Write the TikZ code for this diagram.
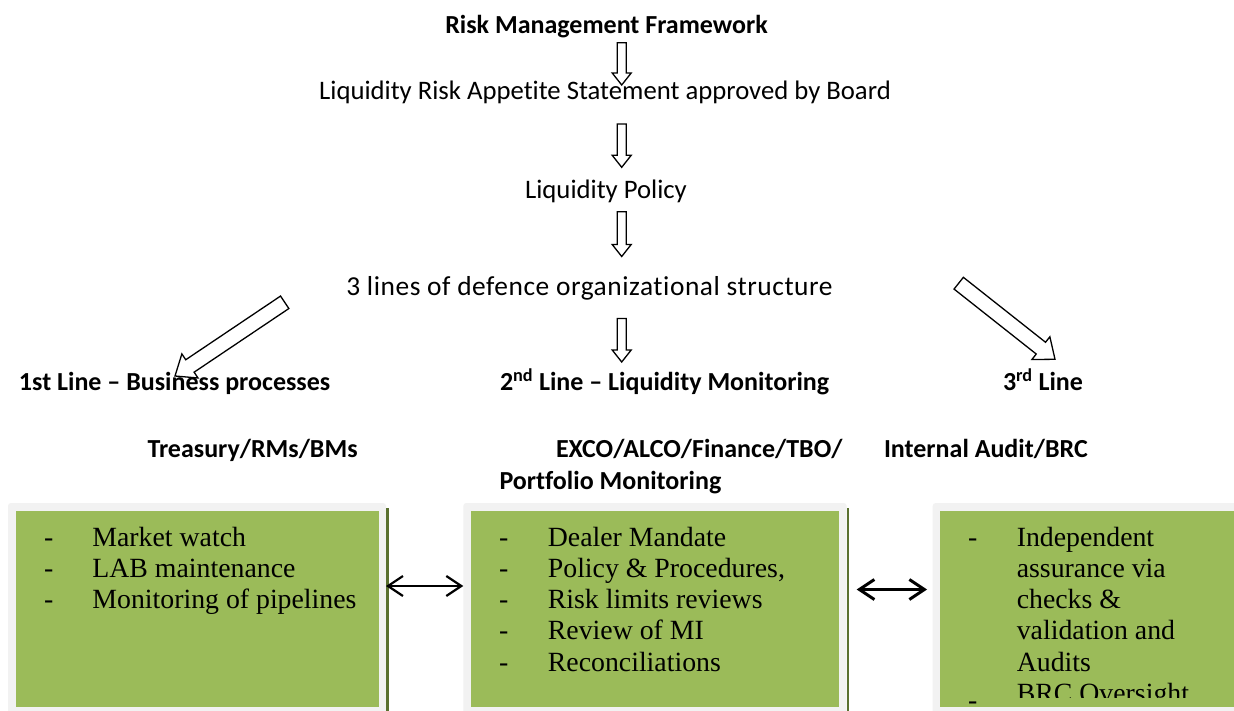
\documentclass[tikz,border=0pt]{standalone}
\usepackage{fontspec}
\setmainfont{Carlito}[Ligatures={TeX,NoCommon}]
\newfontfamily\listfont{Liberation Serif}
\usetikzlibrary{arrows.meta,calc}

\definecolor{leaf}{HTML}{9BBB59}
\definecolor{rim}{HTML}{F2F2F2}
\definecolor{edge}{HTML}{5A7030}

% hollow block arrow: [style] {tail} {tip} {half shaft} {half head} {head length}
\newcommand\hollowarrow[6][]{%
  \coordinate (hb) at ($(#3)!#6!(#2)$);
  \draw[hollow,#1]
    ($(#2)!#4!90:(#3)$) -- ($(hb)!#4!90:(#3)$) -- ($(hb)!#5!90:(#3)$) -- (#3)
    -- ($(hb)!#5!-90:(#3)$) -- ($(hb)!#4!-90:(#3)$) -- ($(#2)!#4!-90:(#3)$) -- cycle;
}

\begin{document}
\begin{tikzpicture}[x=1pt,y=-1pt,
  every node/.style={inner sep=0pt,outer sep=0pt},
  title/.style={font=\fontsize{26}{31}\selectfont\bfseries,anchor=base},
  plain/.style={font=\fontsize{26.7}{31}\selectfont,anchor=base},
  head/.style={font=\fontsize{26}{31}\selectfont\bfseries,anchor=base west},
  item/.style={font=\listfont\fontsize{27.8}{31}\selectfont,anchor=base west},
  rimbox/.style={fill=rim,rounded corners=3pt,anchor=north west,minimum height=215pt},
  hollow/.style={draw=black,fill=white,line width=1.3pt},
  link/.style={{Straight Barb[length=15pt,width=20pt]}-{Straight Barb[length=15pt,width=20pt]}}
]
\clip (0,0) rectangle (1234,711);
\fill[white] (0,0) rectangle (1234,711);

% chain of documents
\node[title] (rmf) at (606.5,34) {Risk Management Framework};
\node[plain] (ras) at (605,100) {Liquidity Risk Appetite Statement approved by Board};
\node[plain] (lp)  at (606,198.5) {Liquidity Policy};
\node[plain,font=\fontsize{27.4}{31}\selectfont\addfontfeatures{LetterSpace=2}] (lod) at (589.5,295) {3 lines of defence organizational structure};

\coordinate (v1a) at (621.7,42.7);  \coordinate (v1b) at (621.7,85);
\coordinate (v2a) at (621.7,124);   \coordinate (v2b) at (621.7,167.3);
\coordinate (v3a) at (621.7,211.7); \coordinate (v3b) at (621.7,256.5);
\coordinate (v4a) at (621.7,318.5); \coordinate (v4b) at (621.7,362);
\hollowarrow{v1a}{v1b}{4.5pt}{9.5pt}{12pt}
\hollowarrow{v2a}{v2b}{4.5pt}{9.5pt}{12pt}
\hollowarrow{v3a}{v3b}{4.5pt}{9.5pt}{12pt}
\hollowarrow{v4a}{v4b}{4.5pt}{9.5pt}{12pt}

\coordinate (dla) at (284.7,302.3); \coordinate (dlb) at (175,376);
\coordinate (dra) at (958.7,283.2); \coordinate (drb) at (1055,359.3);
\hollowarrow{dla}{dlb}{7.5pt}{14.5pt}{18pt}
\hollowarrow{dra}{drb}{7.5pt}{14.5pt}{18pt}

% three lines of defence
\node[head] (l1) at (19,390.5) {1st Line – Business processes};
\node[head] (l2) at (500,390.5) {2\textsuperscript{nd} Line – Liquidity Monitoring};
\node[head] (l3) at (1003,390.5) {3\textsuperscript{rd} Line};

\node[head] (o1)  at (147.5,457.5) {Treasury/RMs/BMs};
\node[head] (o2)  at (556,457.5) {EXCO/ALCO/Finance/TBO/};
\node[head] (o2b) at (499.5,489.5) {Portfolio Monitoring};
\node[head] (o3)  at (884,457.5) {Internal Audit/BRC};

% activity boxes
\node[rimbox,minimum width=378pt]   (box1) at (8,503) {};
\node[rimbox,minimum width=383.4pt] (box2) at (463.3,503) {};
\node[rimbox,minimum width=320pt]   (box3) at (932.7,503) {};
\fill[leaf] (16,510.5) rectangle (378.5,706.5);
\fill[leaf] (470.7,510.5) rectangle (839,706.5);
\fill[leaf] (940,510.5) rectangle (1234,706.5);
\fill[edge] (386,508) rectangle (388.5,711);
\fill[edge] (846.7,508) rectangle (849,711);

\foreach \t [count=\i from 0] in {Market watch,LAB maintenance,Monitoring of pipelines}{
  \node[item] (d1-\i) at (44,546+31.25*\i) {-};
  \node[item] (t1-\i) at (92.4,546+31.25*\i) {\t};
}
\foreach \t [count=\i from 0] in {Dealer Mandate,{Policy \& Procedures,},Risk limits reviews,Review of MI,Reconciliations}{
  \node[item] (d2-\i) at (499,546+31.25*\i) {-};
  \node[item] (t2-\i) at (547.9,546+31.25*\i) {\t};
}
\begin{scope}
  \clip (940,510.5) rectangle (1234,697.5);
  \node[item] (d3-0) at (968.2,546) {-};
  \foreach \t [count=\i from 0] in {Independent,assurance via,checks \&,validation and,Audits,BRC Oversight}{
    \node[item] (t3-\i) at (1016.8,546+31.25*\i) {\t};
  }
\end{scope}
\node[item] (d3-1) at (968.2,709.5) {-};

% hand-over between the lines
\coordinate (y1) at (0,586);
\coordinate (y2) at (0,589.5);
\draw[link,line width=2.2pt] (box1.east |- y1) -- (box2.west |- y1);
\draw[link,line width=3pt,shorten <=10pt,shorten >=5.6pt] (box2.east |- y2) -- (box3.west |- y2);
\end{tikzpicture}
\end{document}
